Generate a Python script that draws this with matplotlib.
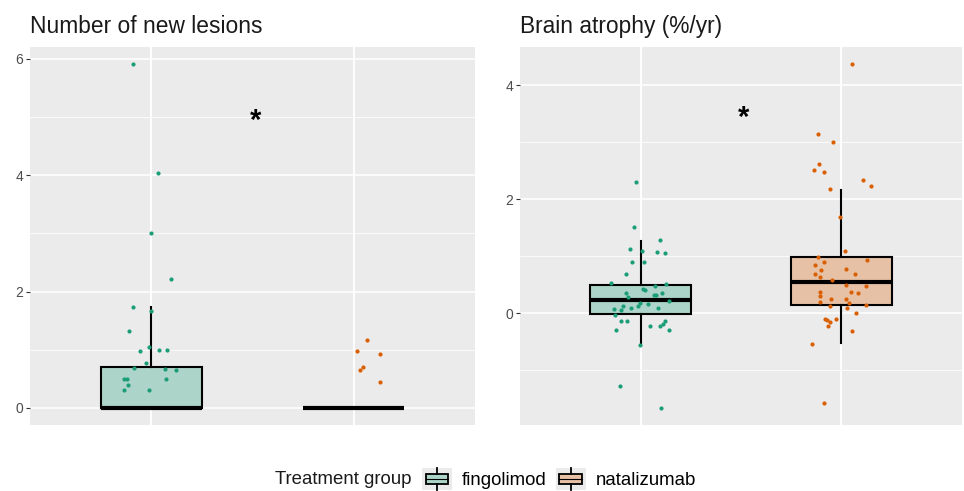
import matplotlib
matplotlib.use("Agg")
import matplotlib.pyplot as plt
from matplotlib.patches import Rectangle, Patch
from matplotlib.lines import Line2D
from matplotlib.legend_handler import HandlerBase
from matplotlib.transforms import offset_copy

plt.rcParams["font.family"] = ["Liberation Sans", "DejaVu Sans"]

GROUPS = ["fingolimod", "natalizumab"]
COLORS = ["#1B9E77", "#D95F02"]

# --- Number of new lesions: jittered points (x position, value) ---
les_fin_x = [0.908, 1.031, 0.998, 1.096, 0.908, 1.0, 0.889, 0.99, 0.942, 1.04, 1.079,
             0.975, 0.916, 1.068, 1.124, 0.866, 0.880, 1.071, 0.883, 0.865, 0.988]
les_fin_y = [5.91, 4.04, 3.01, 2.22, 1.73, 1.67, 1.32, 1.04, 0.98, 1.00, 1.00,
             0.77, 0.68, 0.67, 0.65, 0.50, 0.49, 0.49, 0.40, 0.31, 0.31]
les_nat_x = [2.064, 2.018, 2.132, 2.046, 2.030, 2.130]
les_nat_y = [1.16, 0.97, 0.92, 0.70, 0.65, 0.45]

# box stats: whislo, q1, median, q3, whishi
les_box_fin = [0.0, 0.0, 0.0, 0.71, 1.73]
les_box_nat = [0.0, 0.0, 0.0, 0.0, 0.0]

# --- Brain atrophy (%/yr) ---
atr_fin_x = [0.977, 0.967, 1.099, 0.947, 1.005, 1.084, 1.120, 0.956, 1.016, 0.929, 0.855,
             1.071, 1.127, 1.012, 1.020, 0.926, 1.109, 1.069, 1.077, 0.939, 1.143, 0.998,
             1.036, 0.985, 0.913, 0.954, 1.089, 0.867, 0.904, 0.873, 0.901, 0.934, 1.120,
             1.110, 1.048, 1.097, 0.878, 1.143, 0.995, 0.898, 1.104]
atr_fin_y = [2.31, 1.51, 1.28, 1.13, 1.10, 1.08, 1.06, 0.89, 0.89, 0.69, 0.53,
             0.48, 0.51, 0.43, 0.40, 0.35, 0.35, 0.32, 0.32, 0.28, 0.22, 0.18,
             0.16, 0.13, 0.12, 0.10, 0.09, 0.07, 0.06, -0.03, -0.13, -0.13, -0.13,
             -0.19, -0.23, -0.23, -0.29, -0.29, -0.56, -1.27, -1.66]
atr_nat_x = [2.051, 1.881, 1.957, 1.888, 1.863, 1.914, 2.105, 2.148, 1.944, 1.992, 2.016,
             1.881, 2.127, 1.911, 1.867, 1.900, 2.021, 1.868, 2.068, 1.891, 1.952, 2.023,
             2.120, 1.893, 2.048, 2.082, 1.893, 1.947, 2.025, 1.891, 2.038, 2.122, 1.942,
             2.026, 2.072, 1.918, 1.928, 1.972, 1.944, 1.932, 2.051, 1.852, 1.911]
atr_nat_y = [4.37, 3.15, 3.01, 2.62, 2.51, 2.47, 2.34, 2.24, 2.18, 1.68, 1.09,
             0.99, 0.94, 0.89, 0.85, 0.76, 0.77, 0.68, 0.68, 0.64, 0.58, 0.49,
             0.48, 0.38, 0.38, 0.35, 0.30, 0.25, 0.25, 0.20, 0.18, 0.14, 0.12,
             0.09, 0.01, -0.11, -0.12, -0.11, -0.16, -0.22, -0.32, -0.54, -1.58]
atr_box_fin = [-0.56, -0.01, 0.23, 0.50, 1.27]
atr_box_nat = [-0.53, 0.14, 0.54, 0.98, 2.17]

panels = [
    ("Number of new lesions", [(les_fin_x, les_fin_y), (les_nat_x, les_nat_y)],
     [les_box_fin, les_box_nat], [0, 2, 4, 6], [1, 3, 5], 5.0),
    ("Brain atrophy (%/yr)", [(atr_fin_x, atr_fin_y), (atr_nat_x, atr_nat_y)],
     [atr_box_fin, atr_box_nat], [0, 2, 4], [-1, 1, 3], 3.5),
]


def blend(c, a=0.3, bg=(235 / 255, 235 / 255, 235 / 255)):
    r, g, b = matplotlib.colors.to_rgb(c)
    return (a * r + (1 - a) * bg[0], a * g + (1 - a) * bg[1], a * b + (1 - a) * bg[2])


class BoxKey(HandlerBase):
    def create_artists(self, legend, orig_handle, xdescent, ydescent, width, height, fontsize, trans):
        x0, y0 = -xdescent, -ydescent
        bg = Rectangle((x0, y0), width, height, fc="#EBEBEB", ec="none", transform=trans)
        bx = Rectangle((x0 + 0.12 * width, y0 + 0.27 * height), 0.76 * width, 0.46 * height,
                       fc=orig_handle.get_facecolor(), ec="black", lw=1.3, transform=trans)
        cx = x0 + width / 2
        w1 = Line2D([cx, cx], [y0, y0 + 0.27 * height], color="black", lw=1.3, transform=trans)
        w2 = Line2D([cx, cx], [y0 + 0.73 * height, y0 + height], color="black", lw=1.3, transform=trans)
        md = Line2D([x0 + 0.12 * width, x0 + 0.88 * width], [y0 + height / 2] * 2,
                    color="black", lw=0.8, transform=trans)
        return [bg, bx, w1, w2, md]


fig = plt.figure(figsize=(9.64, 4.91), dpi=100)
rects = [[30 / 964, 1 - 425 / 491, 445 / 964, 378 / 491],
         [520 / 964, 1 - 425 / 491, 442 / 964, 378 / 491]]

for rect, (title, pts, boxes, yt, ymin, star_y) in zip(rects, panels):
    ax = fig.add_axes(rect)
    ax.set_facecolor("#EBEBEB")
    for s in ax.spines.values():
        s.set_visible(False)
    ax.set_axisbelow(True)
    ax.set_yticks(yt)
    ax.set_yticks(ymin, minor=True)
    ax.set_xticks([1, 2])
    ax.grid(which="major", color="white", lw=1.1)
    ax.grid(which="minor", axis="y", color="white", lw=0.55)
    ax.tick_params(axis="y", which="major", length=3, color="#333333", labelcolor="#4D4D4D",
                   labelsize=10, pad=2)
    ax.tick_params(axis="y", which="minor", length=0)
    ax.tick_params(axis="x", length=0, labelbottom=False)

    stats = []
    for b in boxes:
        stats.append(dict(whislo=b[0], q1=b[1], med=b[2], q3=b[3], whishi=b[4], fliers=[]))
    bp = ax.bxp(stats, positions=[1, 2], widths=0.5, patch_artist=True, showcaps=False,
                showfliers=False,
                boxprops=dict(lw=1.5, edgecolor="black"),
                whiskerprops=dict(lw=1.5, color="black"),
                medianprops=dict(lw=3, color="black", solid_capstyle="butt"))
    for patch, c in zip(bp["boxes"], COLORS):
        patch.set_facecolor(blend(c))
        patch.set_zorder(2)

    allv = []
    for (xs, ys), c in zip(pts, COLORS):
        ax.scatter(xs, ys, s=9, color=c, lw=0, zorder=4)
        allv += ys
    lo, hi = min(allv + [0]), max(allv)
    pad = 0.05 * (hi - lo)
    ax.set_ylim(lo - pad, hi + pad)
    ax.set_xlim(0.4, 2.6)
    ax.text(1.5, star_y, "*", fontsize=21, fontweight="bold", ha="center", va="center",
            color="black", transform=offset_copy(ax.transData, fig, x=2, y=-3, units="points"))
    ax.set_title(title, loc="left", fontsize=16.4, pad=10, color="#1A1A1A")

fig.text(275 / 964, 1 - 480 / 491, "Treatment group", fontsize=13.4, va="center", ha="left",
         color="#1A1A1A")
handles = [Patch(facecolor=blend(c)) for c in COLORS]
fig.legend(handles, GROUPS, loc="center left", bbox_to_anchor=(422 / 964, 1 - 479 / 491),
           ncol=2, frameon=False, fontsize=13.4, handlelength=1.61, handleheight=1.4,
           handletextpad=0.54, columnspacing=0.48, borderaxespad=0, borderpad=0,
           handler_map={Patch: BoxKey()})

fig.savefig("out.png", dpi=100)
